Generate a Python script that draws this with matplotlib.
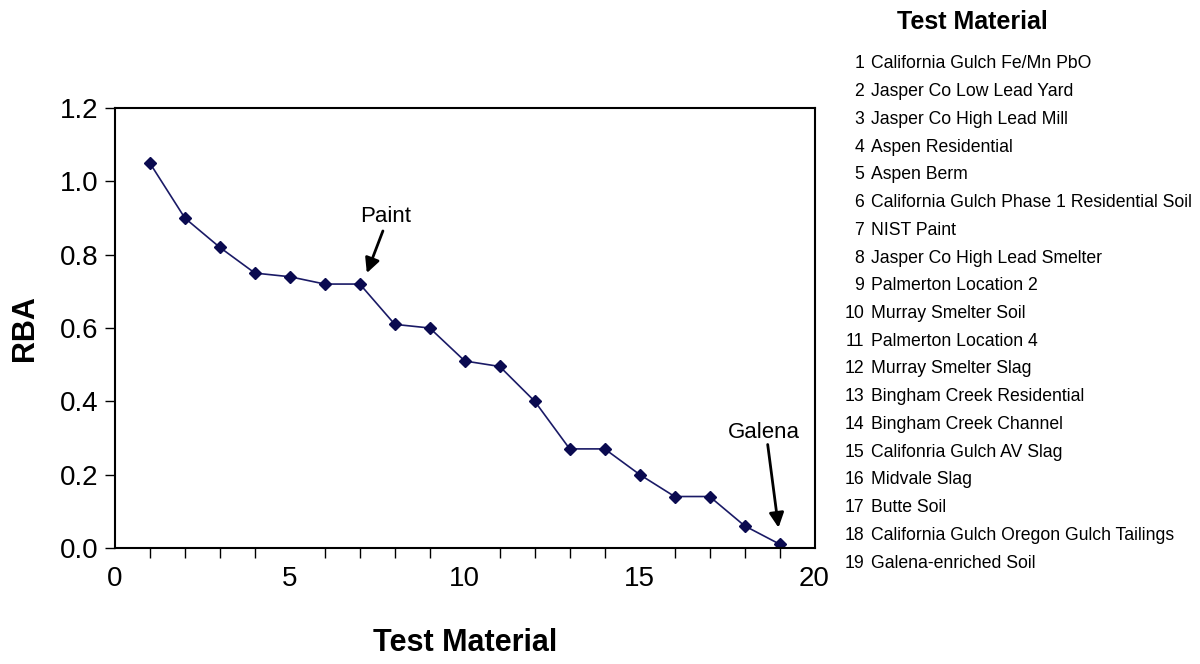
import matplotlib.pyplot as plt

materials = ['California Gulch Fe/Mn PbO',
             'Jasper Co Low Lead Yard',
             'Jasper Co High Lead Mill',
             'Aspen Residential',
             'Aspen Berm',
             'California Gulch Phase 1 Residential Soil',
             'NIST Paint',
             'Jasper Co High Lead Smelter',
             'Palmerton Location 2',
             'Murray Smelter Soil',
             'Palmerton Location 4',
             'Murray Smelter Slag',
             'Bingham Creek Residential',
             'Bingham Creek Channel',
             'Califonria Gulch AV Slag',
             'Midvale Slag',
             'Butte Soil',
             'California Gulch Oregon Gulch Tailings',
             'Galena-enriched Soil']
sample_no = list(range(1, 20))
rba = [1.05, 0.90, 0.82, 0.75, 0.74, 0.72, 0.72, 0.61, 0.60, 0.51,
       0.495, 0.40, 0.27, 0.27, 0.20, 0.14, 0.14, 0.06, 0.01]

plt.rcParams['font.family'] = ['Liberation Sans', 'DejaVu Sans']

fig = plt.figure(figsize=(12, 6.64), dpi=100)
ax = fig.add_axes([0.0958, 0.175, 0.583, 0.662])

ax.plot(sample_no, rba, color='#1a1a66', lw=1.2, marker='D', ms=6.5,
        mfc='#0a0a50', mec='#0a0a50')

ax.set_xlim(0, 20)
ax.set_ylim(0, 1.2)
ax.set_xticks([0, 5, 10, 15, 20])
ax.set_xticks(range(1, 20), minor=True)
ax.set_yticks([0, 0.2, 0.4, 0.6, 0.8, 1.0, 1.2])
ax.set_yticklabels(['0.0', '0.2', '0.4', '0.6', '0.8', '1.0', '1.2'])
ax.tick_params(axis='both', which='major', labelsize=20, length=7, width=1, direction='out')
ax.tick_params(axis='y', which='major', pad=5)
ax.tick_params(axis='x', which='major', length=0, pad=13)
ax.tick_params(axis='x', which='minor', length=7, width=1, direction='out')
for s in ax.spines.values():
    s.set_linewidth(1.5)

ax.set_xlabel('Test Material', fontsize=22, fontweight='bold', labelpad=26)
ax.set_ylabel('RBA', fontsize=22, fontweight='bold', labelpad=14)

# annotations with arrows
ax.text(7.75, 0.905, 'Paint', fontsize=16, ha='center', va='center')
ax.annotate('', xy=(7.2, 0.75), xytext=(7.66, 0.865),
            arrowprops=dict(arrowstyle='-|>', color='black', lw=2,
                            mutation_scale=22, shrinkA=0, shrinkB=0))
ax.text(18.55, 0.314, 'Galena', fontsize=16, ha='center', va='center')
ax.annotate('', xy=(18.97, 0.055), xytext=(18.66, 0.282),
            arrowprops=dict(arrowstyle='-|>', color='black', lw=2,
                            mutation_scale=22, shrinkA=0, shrinkB=0))

# material key on the right
fig.text(972 / 1200, 1 - 22 / 664, 'Test Material', fontsize=18, fontweight='bold',
         ha='center', va='center')
y0 = 64
dy = (563 - 64) / 18
for i, name in enumerate(materials):
    y = 1 - (y0 + i * dy) / 664
    fig.text(864 / 1200, y, str(sample_no[i]), fontsize=12.7, ha='right', va='center')
    fig.text(871 / 1200, y, name, fontsize=12.7, ha='left', va='center')

plt.savefig('out.png', dpi=100)
